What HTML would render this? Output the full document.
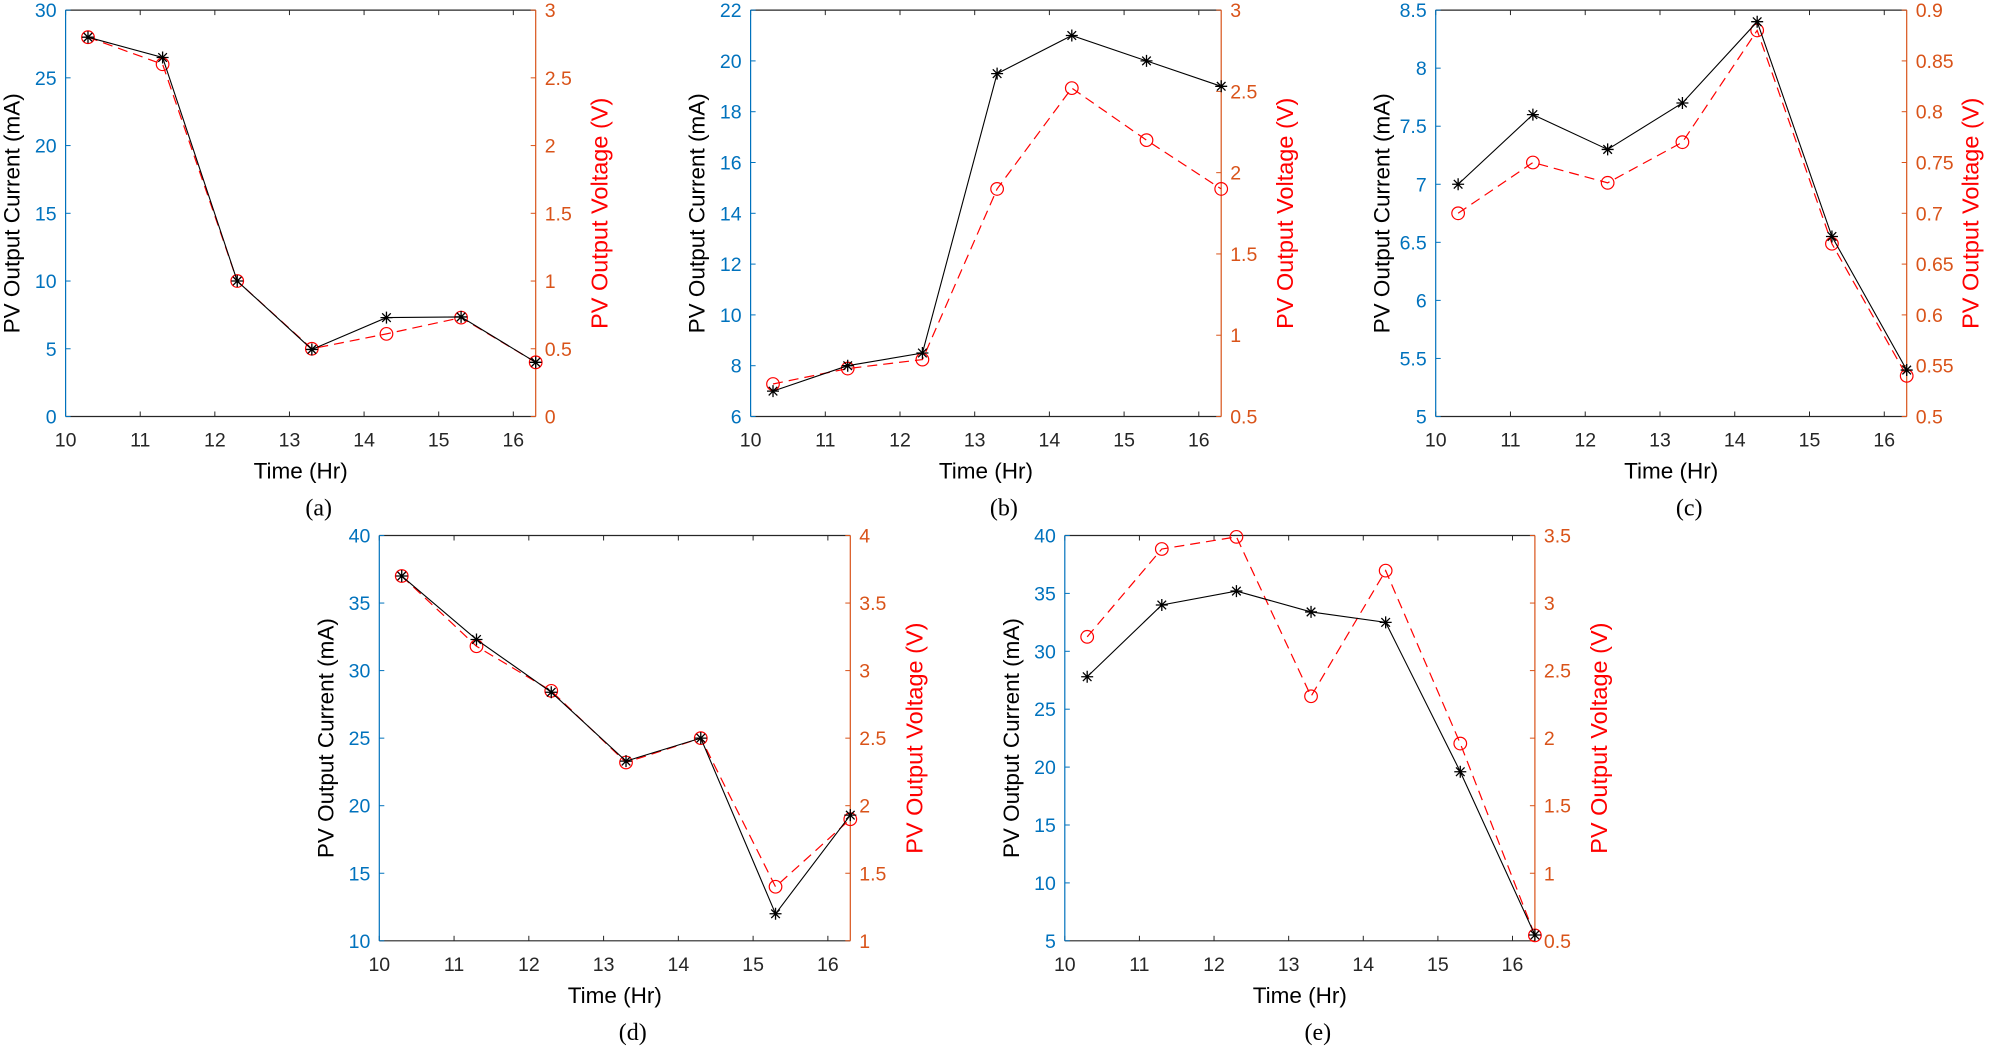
<!DOCTYPE html>
<html><head><meta charset="utf-8"><style>
html,body{margin:0;padding:0;background:#fff;}
svg{display:block;font-family:"Liberation Sans",Arial,sans-serif;}
</style></head><body>
<svg id="fig" width="1996" height="1060" viewBox="0 0 1996 1060" xmlns="http://www.w3.org/2000/svg"></svg>
<script>
const hours = [10.3, 11.3, 12.3, 13.3, 14.3, 15.3, 16.3];
const xTicks = [10, 11, 12, 13, 14, 15, 16];
const panelLabels = ['(a)', '(b)', '(c)', '(d)', '(e)'];
const currentA = [28, 26.5, 10, 4.95, 7.3, 7.35, 4];
const voltageA = [2.8, 2.6, 1.0, 0.5, 0.61, 0.73, 0.4];
const currentB = [7, 8, 8.5, 19.5, 21, 20, 19];
const voltageB = [0.7, 0.795, 0.85, 1.9, 2.52, 2.2, 1.9];
const currentC = [7, 7.6, 7.3, 7.7, 8.4, 6.55, 5.4];
const voltageC = [0.70, 0.75, 0.73, 0.77, 0.88, 0.67, 0.54];
const currentD = [37, 32.3, 28.4, 23.3, 25, 12, 19.3];
const voltageD = [3.7, 3.18, 2.85, 2.32, 2.5, 1.4, 1.9];
const currentE = [27.8, 34, 35.2, 33.4, 32.5, 19.6, 5.5];
const voltageE = [2.75, 3.40, 3.49, 2.31, 3.24, 1.96, 0.54];
const leftTicksA = [0,5,10,15,20,25,30];
const rightTicksA = [0,0.5,1,1.5,2,2.5,3];
const leftTicksB = [6,8,10,12,14,16,18,20,22];
const rightTicksB = [0.5,1,1.5,2,2.5,3];
const leftTicksC = [5,5.5,6,6.5,7,7.5,8,8.5];
const rightTicksC = [0.5,0.55,0.6,0.65,0.7,0.75,0.8,0.85,0.9];
const leftTicksD = [10,15,20,25,30,35,40];
const rightTicksD = [1,1.5,2,2.5,3,3.5,4];
const leftTicksE = [5,10,15,20,25,30,35,40];
const rightTicksE = [0.5,1,1.5,2,2.5,3,3.5];

const NS = 'http://www.w3.org/2000/svg';
const svg = document.getElementById('fig');
function mk(tag, attrs, parent){
  const e = document.createElementNS(NS, tag);
  for (const k in attrs) e.setAttribute(k, attrs[k]);
  (parent||svg).appendChild(e);
  return e;
}
const panels = [
  {box:[65.6,10.1,535.7,416.5], cur:currentA, vol:voltageA, lt:leftTicksA, rt:rightTicksA},
  {box:[750.6,10.1,1221.2,416.5], cur:currentB, vol:voltageB, lt:leftTicksB, rt:rightTicksB},
  {box:[1435.7,10.1,1906.7,416.5], cur:currentC, vol:voltageC, lt:leftTicksC, rt:rightTicksC},
  {box:[379.3,535.5,850.3,940.8], cur:currentD, vol:voltageD, lt:leftTicksD, rt:rightTicksD},
  {box:[1064.8,535.5,1534.9,940.8], cur:currentE, vol:voltageE, lt:leftTicksE, rt:rightTicksE}
];
const BLUE='#0072BD', ORANGE='#D95319';
panels.forEach((p, i) => {
  const [L,T,R,B] = p.box;
  const g = mk('g', {});
  
  
  const xmin=10, xmax=16.3;
  const ylo=p.lt[0], yhi=p.lt[p.lt.length-1];
  const vlo=p.rt[0], vhi=p.rt[p.rt.length-1];
  const X = v => L + (v-xmin)/(xmax-xmin)*(R-L);
  const Y = v => B - (v-ylo)/(yhi-ylo)*(B-T);
  const V = v => B - (v-vlo)/(vhi-vlo)*(B-T);
  mk('line', {x1:L,y1:T,x2:R,y2:T,stroke:'#262626','stroke-width':1.2}, g);
  const xa = mk('line', {x1:L,y1:B,x2:R,y2:B,stroke:'#262626','stroke-width':1.2}, g);
  
  
  xTicks.forEach(t => {
    mk('line', {x1:X(t),y1:B,x2:X(t),y2:B-5,stroke:'#262626','stroke-width':1}, g);
    mk('line', {x1:X(t),y1:T,x2:X(t),y2:T+5,stroke:'#262626','stroke-width':1}, g);
    const tx = mk('text', {x:X(t),y:B+30,'font-size':19.5,'text-anchor':'middle',fill:'#262626'}, g);
    tx.textContent = t;
    
    
  });
  const la = mk('line', {x1:L,y1:T,x2:L,y2:B,stroke:BLUE,'stroke-width':1.2}, g);
  
  
  p.lt.forEach(t => {
    mk('line', {x1:L,y1:Y(t),x2:L+5,y2:Y(t),stroke:BLUE,'stroke-width':1}, g);
    const tx = mk('text', {x:L-9,y:Y(t)+7,'font-size':19.5,'text-anchor':'end',fill:BLUE}, g);
    tx.textContent = t;
    
    
  });
  const ra = mk('line', {x1:R,y1:T,x2:R,y2:B,stroke:ORANGE,'stroke-width':1.2}, g);
  
  
  p.rt.forEach(t => {
    mk('line', {x1:R,y1:V(t),x2:R-5,y2:V(t),stroke:ORANGE,'stroke-width':1}, g);
    const tx = mk('text', {x:R+9,y:V(t)+7,'font-size':19.5,'text-anchor':'start',fill:ORANGE}, g);
    tx.textContent = String(t);
    
    
  });
  const cy = (T+B)/2, cx=(L+R)/2;
  const yl = mk('text', {x:0,y:0,'font-size':22.5,'text-anchor':'middle',fill:'#000',transform:`translate(${L-46},${cy}) rotate(-90)`}, g);
  yl.textContent = 'PV Output Current (mA)';
  
  
  const yr = mk('text', {x:0,y:0,'font-size':23.5,'text-anchor':'middle',fill:'#FF0000',transform:`translate(${R+72},${cy}) rotate(-90)`}, g);
  yr.textContent = 'PV Output Voltage  (V)';
  
  
  const xl = mk('text', {x:cx,y:B+62,'font-size':22.5,'text-anchor':'middle',fill:'#000'}, g);
  xl.textContent = 'Time (Hr)';
  
  
  const pl = mk('text', {x:cx+18,y:B+99,'font-size':24,'text-anchor':'middle',fill:'#000','font-family':'"Liberation Serif",serif'}, g);
  pl.textContent = panelLabels[i];
  
  
  const vp = mk('polyline', {points:hours.map((h,k)=>X(h)+','+V(p.vol[k])).join(' '),fill:'none',stroke:'#FF0000','stroke-width':1.2,'stroke-dasharray':'10,6'}, g);
  
  
  hours.forEach((h,k) => {
    const c = mk('circle', {cx:X(h),cy:V(p.vol[k]),r:6.3,fill:'none',stroke:'#FF0000','stroke-width':1.2}, g);
    
    
  });
  const cp = mk('polyline', {points:hours.map((h,k)=>X(h)+','+Y(p.cur[k])).join(' '),fill:'none',stroke:'#000','stroke-width':1.1}, g);
  
  
  hours.forEach((h,k) => {
    const x=X(h), y=Y(p.cur[k]), s=6, d=4.3;
    const a = mk('path', {d:`M${x-s},${y}H${x+s}M${x},${y-s}V${y+s}M${x-d},${y-d}L${x+d},${y+d}M${x-d},${y+d}L${x+d},${y-d}`,stroke:'#000','stroke-width':1.3,fill:'none'}, g);
    
    
  });
});
</script>
</body></html>
